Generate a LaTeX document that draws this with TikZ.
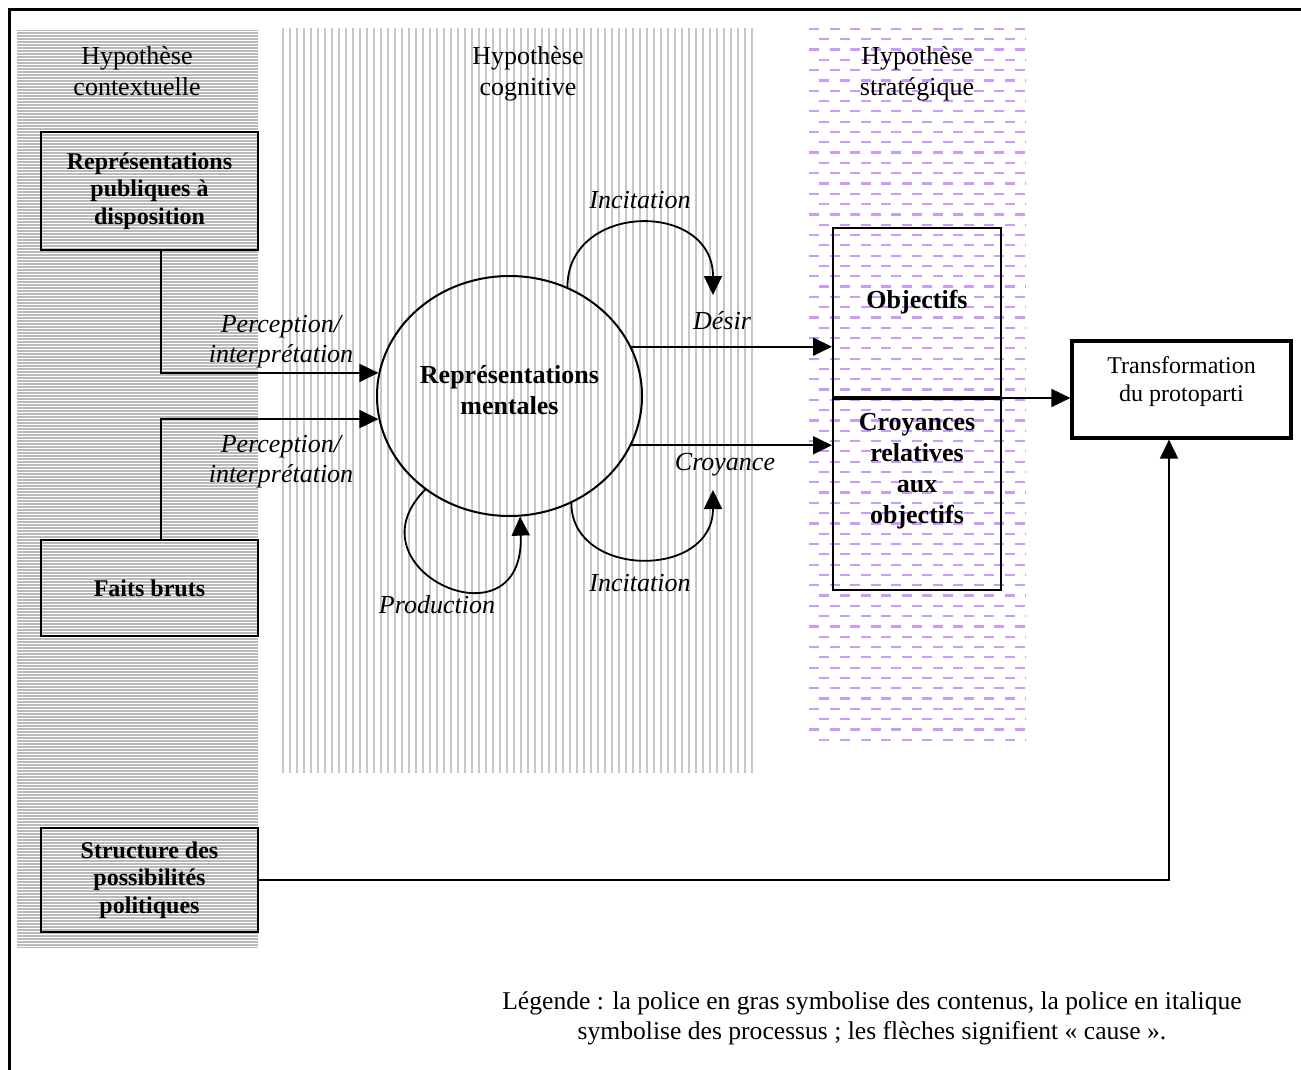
\documentclass[tikz,border=0pt]{standalone}
\usepackage{fontspec}
\setmainfont{Liberation Serif}
\usetikzlibrary{shapes.geometric,arrows.meta}
\definecolor{strat}{RGB}{204,153,255}

\begin{document}
\begin{tikzpicture}[x=0.5pt,y=-0.5pt,
	contenu/.style={draw,line width=1pt,align=center,font=\fontsize{12}{13.75}\selectfont\bfseries,inner sep=2pt},
	grandcontenu/.style={contenu,font=\fontsize{13}{15.5}\selectfont\bfseries},
	grandtexte/.style={align=center,font=\fontsize{13}{15.5}\selectfont\bfseries},
	processus/.style={align=center,font=\fontsize{13}{15}\selectfont\itshape},
	titre/.style={align=center,font=\fontsize{13}{15.5}\selectfont},
	fleche/.style={line width=0.9pt,-{Triangle[length=9.5pt,width=9pt]}},
	ctxline/.style={white,line width=0.35pt},
	cogline/.style={black!22,line width=1pt},
	strline/.style={draw=strat,line width=1.1pt,dash pattern=on 5pt off 5.3pt}]
\useasboundingbox (0,0) rectangle (1301,1070);

%hatched bands behind the three hypotheses
\fill[black!27] (17,30) rectangle (258,948);
\foreach \y in {31,34,...,947}{
	\draw[ctxline] (17,\y) -- (258,\y);
}
\foreach \x in {283,290,...,753}{
	\draw[cogline] (\x,28) -- (\x,773);
}
\foreach \k in {0,...,69}{
	\pgfmathsetmacro\yy{29+10.3*\k}
	\pgfmathsetmacro\ph{mod(\k,2)*5.15}
	\draw[strline,dash phase=\ph pt] (809,\yy) -- (1026,\yy);
}

%frame
\draw[line width=1.5pt] (9.5,10) rectangle (1320,1090);

%titles of the bands
\node[titre] (hctx) at (137,71) {Hypothèse\\contextuelle};
\node[titre] (hcog) at (528,74) {Hypothèse\\cognitive};
\node[titre] (hstr) at (917,74) {Hypothèse\\stratégique};

%contents
\node[contenu,minimum width=108.5pt,minimum height=59pt] (pub) at (149.5,191) {Représentations\\publiques à\\disposition};
\node[contenu,minimum width=108.5pt,minimum height=48pt] (faits) at (149.5,588) {Faits bruts};
\node[contenu,minimum width=108.5pt,minimum height=52pt] (struct) at (149.5,880) {Structure des\\possibilités\\politiques};
\node[draw,line width=1pt,ellipse,minimum width=132.5pt,minimum height=120pt] (mental) at (509.5,396) {};
\node[grandtexte] (mentaltxt) at (509.5,390) {Représentations\\mentales};
\node[draw,line width=1pt,minimum width=84pt,minimum height=84.5pt] (obj) at (917,312.5) {};
\node[draw,line width=1pt,minimum width=84pt,minimum height=95.5pt,anchor=north] (croy) at (obj.south) {};
\node[grandtexte] (objtxt) at (917,302) {Objectifs};
\node[grandtexte] (croytxt) at (917,471) {Croyances\\relatives\\aux\\objectifs};
\node[draw,line width=1.6pt,align=center,font=\fontsize{12}{14}\selectfont,minimum width=109.5pt,minimum height=48.5pt] (transf) at (1181.5,389.5) {};
\node[align=center,font=\fontsize{12}{14}\selectfont] (transftxt) at (1181.5,382) {Transformation\\du protoparti};

%processes
\node[processus] (incit1) at (640,200) {Incitation};
\node[processus] (desir) at (722,321) {Désir};
\node[processus] (croyl) at (725,465) {Croyance};
\node[processus] (incit2) at (640,583) {Incitation};
\node[processus] (prod) at (437,605) {Production};
\node[processus] (perc1) at (281,342) {Perception/\\interprétation};
\node[processus] (perc2) at (281,462) {Perception/\\interprétation};

\coordinate (tipdesir) at (713,295);
\coordinate (tipcroy) at (713,490);

%arrows
\draw[fleche] ([xshift=5.75pt]pub.south) |- (mental.170);
\draw[fleche] ([xshift=5.75pt]faits.north) |- (mental.190);
\draw[fleche] (mental.22) -- (mental.22 -| obj.west);
\draw[fleche] (mental.-22) -- (mental.-22 -| croy.west);
\draw[fleche] (obj.south west) -- (obj.south west -| transf.west);
\draw[fleche] (struct.east) -| ([xshift=-6.25pt]transf.south);
\draw[fleche] (mental.62) .. controls +(0,-85) and +(0,-95) .. (tipdesir);
\draw[fleche] (mental.-60) .. controls +(0,75) and +(0,90) .. (tipcroy);
\draw[fleche] (mental.-132) .. controls +(-80,80) and +(5,135) .. (mental.-85);

%legend
\node[align=center,font=\fontsize{12.8}{15}\selectfont] (legende) at (872,1018) {Légende : la police en gras symbolise des contenus, la police en italique\\symbolise des processus ; les flèches signifient « cause ».};
\end{tikzpicture}
\end{document}
